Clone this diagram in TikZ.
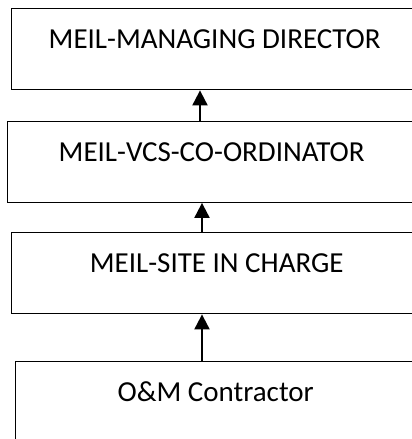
\documentclass[tikz,border=0pt]{standalone}
\usepackage{fontspec}
\setmainfont{Carlito}
\usetikzlibrary{arrows.meta}
\tikzset{
  post/.style={draw, line width=1.4pt, anchor=north west, inner sep=0pt,
    text height=40pt, text depth=41pt, font=\fontsize{29}{34}\selectfont},
  uparrow/.style={-{Triangle[width=15pt,length=15pt]}, line width=2pt}
}
\begin{document}
\begin{tikzpicture}[x=1pt, y=-1pt]
  \useasboundingbox (0,0) rectangle (412,439);
  \node[post, minimum width=406pt] (director) at (11,8) {MEIL-MANAGING DIRECTOR};
  \node[post, minimum width=408pt] (coord) at (7,120.5) {MEIL-VCS-CO-ORDINATOR};
  \node[post, minimum width=410pt] (site) at (11,232) {MEIL-SITE IN CHARGE};
  \node[post, minimum width=400pt] (contractor) at (15,360.5) {O\&M Contractor};
  % reporting lines
  \draw[uparrow] (coord.north -| 200,0) -- (director.south -| 200,0);
  \draw[uparrow] (site.north -| 202,0) -- (coord.south -| 202,0);
  \draw[uparrow] (contractor.north -| 202,0) -- (site.south -| 202,0);
\end{tikzpicture}
\end{document}
